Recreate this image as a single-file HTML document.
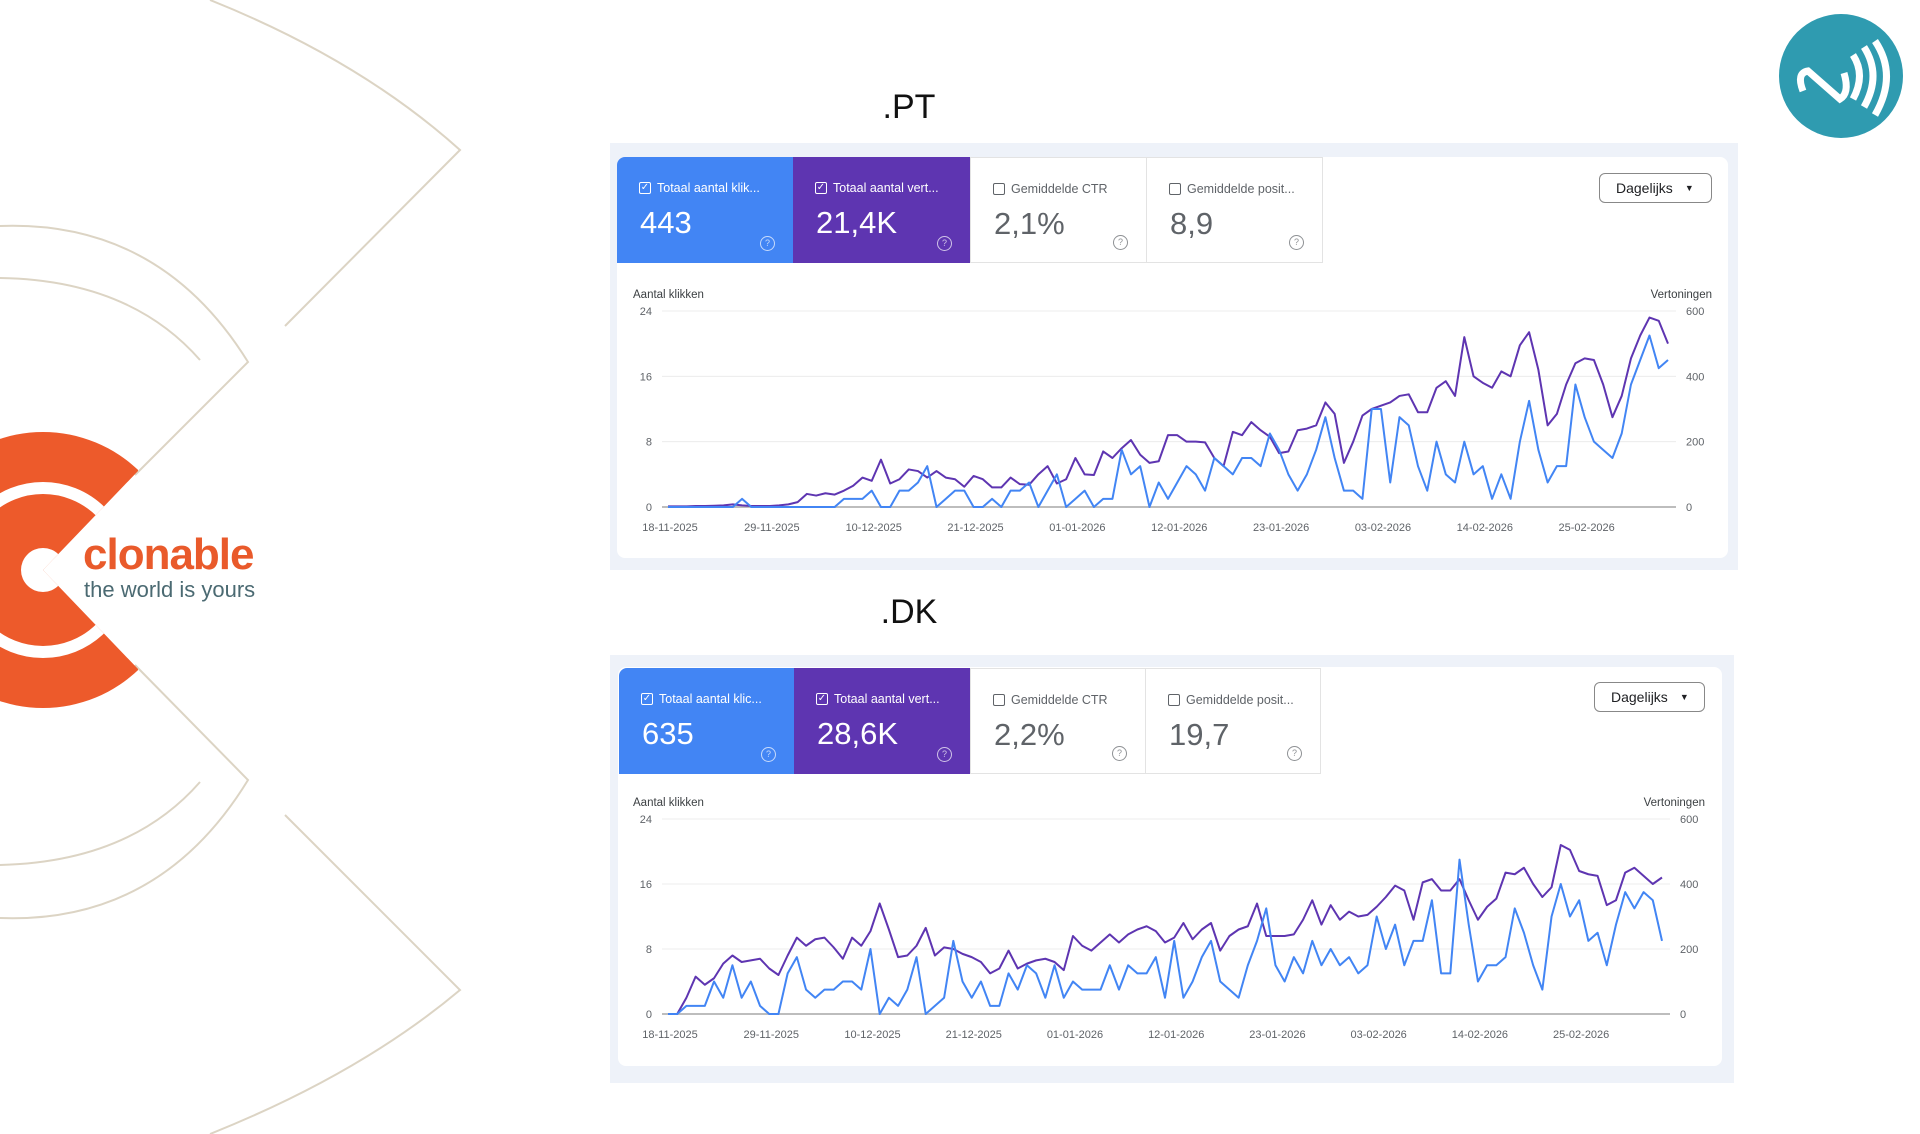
<!DOCTYPE html>
<html><head><meta charset="utf-8"><style>
html,body{margin:0;padding:0}
body{width:1920px;height:1134px;position:relative;overflow:hidden;background:#fff;font-family:"Liberation Sans",sans-serif}
.abs{position:absolute}
.title{position:absolute;font-size:34px;color:#111;transform:translateX(-50%)}
.panel{position:absolute;background:#eef2f9}
.inner{position:absolute;background:#fff;border-radius:8px}
.card{position:absolute;box-sizing:border-box;color:#fff}
.card.w{color:#5f6368;background:#fff;border:1px solid #e3e3e3}
.card .lab{position:absolute;left:22px;top:24px;font-size:12.5px;white-space:nowrap;display:flex;align-items:center;gap:6px}
.cb{width:12px;height:12px;border:1.5px solid currentColor;border-radius:2px;box-sizing:border-box;font-size:10px;line-height:9px;text-align:center}
.card .val{position:absolute;left:23px;top:48px;font-size:31px}
.help{position:absolute;right:18px;bottom:12px;width:13px;height:13px;border:1px solid currentColor;border-radius:50%;font-size:9px;text-align:center;line-height:13px;opacity:.7}
.btn{position:absolute;box-sizing:border-box;border:1px solid #888;border-radius:6px;font-size:14px;color:#202124;padding-left:16px;display:flex;align-items:center}
.btn span{margin-left:12px;font-size:9px}
</style></head><body>
<svg class="abs" style="left:0;top:0" width="600" height="1134">
<g fill="none" stroke="#dcd4c4" stroke-width="2">
<path d="M210 0 Q360 60 460 150 L285 326"/>
<path d="M210 1134 Q360 1074 460 990 L285 815"/>
<path d="M0 226 Q160 220 248 362 L135 475"/>
<path d="M0 278 Q130 280 200 360"/>
<path d="M0 918 Q160 924 248 780 L135 665"/>
<path d="M0 865 Q130 862 200 782"/>
</g>
</svg>
<svg class="abs" style="left:0;top:420" width="280" height="300">
<defs><clipPath id="wedge"><path d="M-200 -200 L138 -200 L138 51 L43 150 L138 249 L138 500 L-200 500Z"/></clipPath></defs>
<g clip-path="url(#wedge)">
<circle cx="43" cy="150" r="138" fill="#ed5a2b"/>
<circle cx="43" cy="150" r="82" fill="none" stroke="#fff" stroke-width="12"/>
<circle cx="43" cy="150" r="22" fill="#fff"/>
</g>
</svg>
<div class="abs" style="left:83px;top:530px;font-size:44px;font-weight:bold;color:#e95a2b;letter-spacing:-1px">clonable</div>
<div class="abs" style="left:84px;top:577px;font-size:22px;color:#4b6a72">the world is yours</div>
<svg class="abs" style="left:1778px;top:13px" width="126" height="126">
<circle cx="63" cy="63" r="62" fill="#2f9bb0"/>
<g fill="none" stroke="#fff" stroke-width="7" stroke-linecap="butt">
<path d="M25 78 Q18 60 30 58 L62 86 Q72 80 66 60"/>
<path d="M75 42 Q88 62 75 86"/><path d="M86 34 Q104 62 86 94"/><path d="M97 28 Q120 62 97 102"/>
</g>
</svg>

<div class="title" style="left:909px;top:88px">.PT</div>
<div class="panel" style="left:610px;top:143px;width:1128px;height:427px"></div>
<div class="inner" style="left:617px;top:157px;width:1111px;height:401px"></div>
<div class="card" style="left:617px;top:157px;width:176px;height:106px;background:#4285f4;border-top-left-radius:8px"><div class="lab"><div class="cb">✓</div>Totaal aantal klik...</div><div class="val">443</div><div class="help">?</div></div>
<div class="card" style="left:793px;top:157px;width:177px;height:106px;background:#5e35b1"><div class="lab"><div class="cb">✓</div>Totaal aantal vert...</div><div class="val">21,4K</div><div class="help">?</div></div>
<div class="card w" style="left:970px;top:157px;width:177px;height:106px"><div class="lab"><div class="cb"></div>Gemiddelde CTR</div><div class="val">2,1%</div><div class="help">?</div></div>
<div class="card w" style="left:1146px;top:157px;width:177px;height:106px"><div class="lab"><div class="cb"></div>Gemiddelde posit...</div><div class="val">8,9</div><div class="help">?</div></div>
<div class="btn" style="left:1599px;top:173px;width:113px;height:30px">Dagelijks<span>▼</span></div>

<div class="title" style="left:909px;top:593px">.DK</div>
<div class="panel" style="left:610px;top:655px;width:1124px;height:428px"></div>
<div class="inner" style="left:618px;top:667px;width:1104px;height:399px"></div>
<div class="card" style="left:619px;top:668px;width:175px;height:106px;background:#4285f4;border-top-left-radius:8px"><div class="lab"><div class="cb">✓</div>Totaal aantal klic...</div><div class="val">635</div><div class="help">?</div></div>
<div class="card" style="left:794px;top:668px;width:176px;height:106px;background:#5e35b1"><div class="lab"><div class="cb">✓</div>Totaal aantal vert...</div><div class="val">28,6K</div><div class="help">?</div></div>
<div class="card w" style="left:970px;top:668px;width:176px;height:106px"><div class="lab"><div class="cb"></div>Gemiddelde CTR</div><div class="val">2,2%</div><div class="help">?</div></div>
<div class="card w" style="left:1145px;top:668px;width:176px;height:106px"><div class="lab"><div class="cb"></div>Gemiddelde posit...</div><div class="val">19,7</div><div class="help">?</div></div>
<div class="btn" style="left:1594px;top:682px;width:111px;height:30px">Dagelijks<span>▼</span></div>

<svg id="charts" class="abs" style="left:0;top:0" width="1920" height="1134"></svg>
<script>
const dateLabels = ["18-11-2025","29-11-2025","10-12-2025","21-12-2025","01-01-2026","12-01-2026","23-01-2026","03-02-2026","14-02-2026","25-02-2026"];
const leftTicks = [0,8,16,24];
const rightTicks = [0,200,400,600];
const ptClicks = [0,0,0,0,0,0,0,0,1,0,0,0,0,0,0,0,0,0,0,1,1,1,2,0,0,2,2,3,5,0,1,2,2,0,0,1,0,2,2,3,0,2,4,0,1,2,0,1,1,7,4,5,0,3,1,3,5,4,2,6,5,4,6,6,5,9,7,4,2,4,7,11,6,2,2,1,12,12,3,11,10,5,2,8,4,3,8,4,5,1,4,1,8,13,7,3,5,5,15,11,8,7,6,9,15,18,21,17,18];
const ptImpr = [2,2,2,3,3,4,5,8,5,3,3,3,5,8,15,40,35,42,38,50,65,90,80,145,72,85,115,110,90,110,90,85,62,95,85,60,60,90,70,68,100,125,72,85,150,100,98,170,150,180,205,160,135,140,220,220,200,200,198,150,125,230,220,260,235,215,165,170,235,240,250,320,285,135,200,280,300,310,320,340,345,290,290,365,385,340,520,400,380,365,415,400,495,535,420,250,285,375,440,455,450,375,275,340,455,525,580,570,500];
const dkClicks = [0,0,1,1,1,4,2,6,2,4,1,0,0,5,7,3,2,3,3,4,4,3,8,0,2,1,3,7,0,1,2,9,4,2,4,1,1,5,3,6,5,2,6,2,4,3,3,3,6,3,6,5,5,7,2,9,2,4,7,9,4,3,2,6,9,13,6,4,7,5,9,6,8,6,7,5,6,12,8,11,6,9,9,14,5,5,19,11,4,6,6,7,13,10,6,3,12,16,12,14,9,10,6,11,15,13,15,14,9];
const dkImpr = [0,0,50,115,90,110,155,180,160,165,170,140,120,180,235,210,230,235,205,170,235,210,255,340,260,175,180,210,265,180,205,200,185,175,160,125,140,195,140,155,165,170,160,135,240,210,195,220,245,220,245,260,270,255,220,235,280,230,260,280,195,240,260,270,340,240,240,240,245,290,350,275,335,290,315,300,305,330,360,395,380,290,405,415,380,380,415,350,290,330,355,435,430,450,400,360,390,520,505,440,430,425,335,350,435,450,425,400,420];

const NS="http://www.w3.org/2000/svg";
const svg=document.getElementById('charts');
function mk(tag,attrs,parent){const e=document.createElementNS(NS,tag);for(const k in attrs)e.setAttribute(k,attrs[k]);(parent||svg).appendChild(e);return e;}
function drawChart(prefix,cfg,clicks,impr){
  const n=clicks.length;
  const xs=i=>cfg.x0+(cfg.x1-cfg.x0)*i/(n-1);
  const yl=v=>cfg.y0-(cfg.y0-cfg.y24)*v/24;
  const yr=v=>cfg.y0-(cfg.y0-cfg.y24)*v/600;
  const g=mk('g',{});
  
  
  leftTicks.forEach((t,k)=>{
    const y=yl(t);
    const ln=mk('line',{x1:cfg.x0-6,x2:cfg.x1+8,y1:y,y2:y,stroke:t===0?'#bdbdbd':'#ececec','stroke-width':t===0?2:1},g);
    
    
    const tl=mk('text',{x:cfg.x0-16,y:y+4,'text-anchor':'end','font-size':11,fill:'#5f6368'},g);tl.textContent=t;
    
    
    const tr=mk('text',{x:cfg.x1+18,y:yr(rightTicks[k])+4,'font-size':11,fill:'#5f6368'},g);tr.textContent=rightTicks[k];
    
    
  });
  const a=mk('text',{x:cfg.x0-35,y:cfg.y24-13,'font-size':11.5,fill:'#3c4043'},g);a.textContent='Aantal klikken';
  
  
  const b=mk('text',{x:cfg.rt,y:cfg.y24-13,'font-size':11.5,fill:'#3c4043','text-anchor':'end'},g);b.textContent='Vertoningen';
  
  
  dateLabels.forEach((d,k)=>{
    const t=mk('text',{x:xs(k*11)+2,y:cfg.y0+24,'text-anchor':'middle','font-size':11,fill:'#5f6368'},g);t.textContent=d;
    
    
  });
  const pi=mk('polyline',{points:impr.map((v,i)=>xs(i)+','+yr(v)).join(' '),fill:'none',stroke:'#5e35b1','stroke-width':2,'stroke-linejoin':'round'},g);
  
  
  const pc=mk('polyline',{points:clicks.map((v,i)=>xs(i)+','+yl(v)).join(' '),fill:'none',stroke:'#4285f4','stroke-width':2,'stroke-linejoin':'round'},g);
  
  
}
drawChart('pt',{x0:668,x1:1668,y0:507,y24:311,rt:1712},ptClicks,ptImpr);
drawChart('dk',{x0:668,x1:1662,y0:1014,y24:819,rt:1705},dkClicks,dkImpr);
</script>
</body></html>
